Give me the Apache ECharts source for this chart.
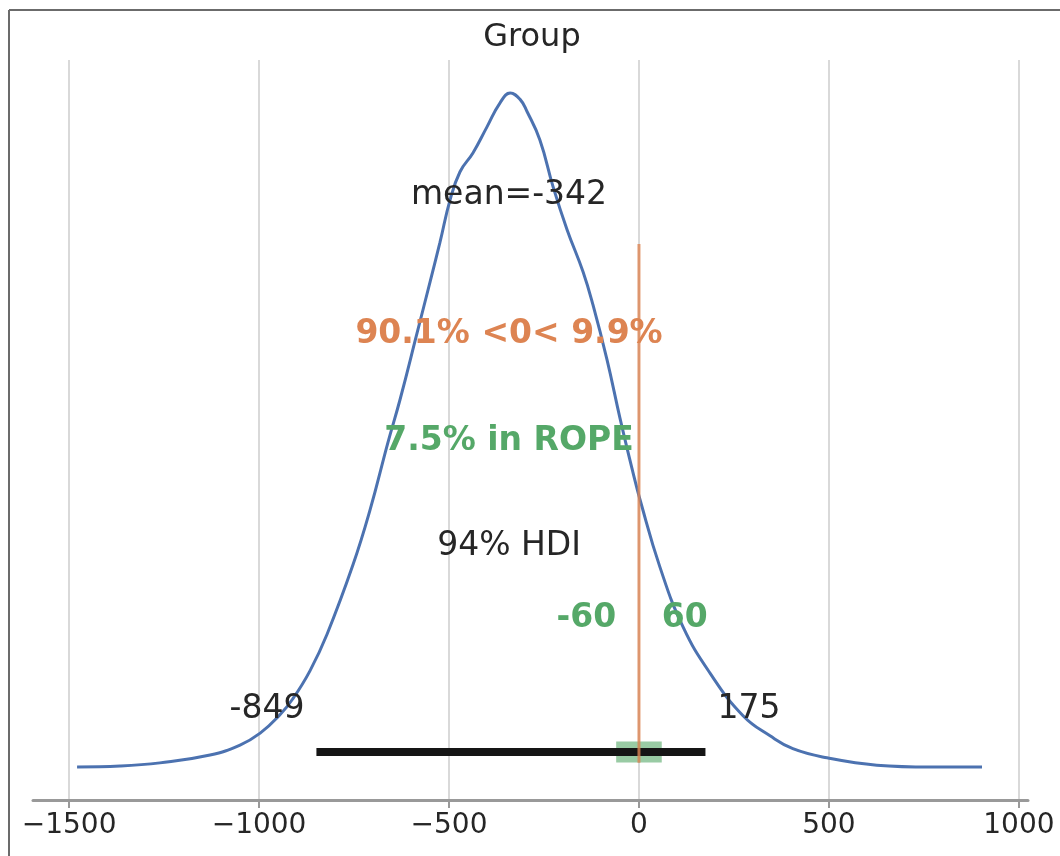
<!DOCTYPE html>
<html>
<head>
<meta charset="utf-8">
<script src="https://cdn.jsdelivr.net/npm/echarts@6/dist/echarts.min.js"></script>
<style>html,body{margin:0;padding:0;background:#fff}#c{width:1060px;height:856px}</style>
</head>
<body>
<div id="c"></div>
<script>
// KDE of posterior (x value, density in 1e-3 units)
const kdeX = [-1479, -1366, -1261, -1129, -1050, -997, -945, -911, -866, -821, -753, -708, -661, -629, -584, -550, -524, -497, -471, -437, -400, -366, -339, -313, -295, -261, -226, -189, -147, -121, -84, -50, -16, 3, 55, 116, 187, 274, 345, 405, 495, 626, 766, 903];
const kdeY = [0.000, 0.002, 0.009, 0.026, 0.048, 0.074, 0.114, 0.149, 0.210, 0.290, 0.441, 0.561, 0.708, 0.802, 0.948, 1.059, 1.145, 1.239, 1.300, 1.341, 1.398, 1.450, 1.472, 1.458, 1.432, 1.370, 1.267, 1.173, 1.081, 1.009, 0.889, 0.762, 0.644, 0.583, 0.437, 0.306, 0.205, 0.112, 0.068, 0.040, 0.020, 0.004, 0.000, 0.000];
const hdi = [-849, 175];
const rope = [-60, 60];
const refVal = 0;
const meanVal = -342;
const tickValues = [-1500, -1000, -500, 0, 500, 1000];
const titleText = "Group";
const meanLabel = "mean=-342";
const refLabel = "90.1% <0< 9.9%";
const ropeLabel = "7.5% in ROPE";
const hdiLabel = "94% HDI";
// annotation heights (density units)
const barY = 0.033;
const refTop = 1.142, refBottom = 0.009;
const meanTextY = 1.249, refTextY = 0.944, ropeTextY = 0.710, hdiTextY = 0.481, ropeValY = 0.324, hdiValY = 0.125;

const FONT = "DejaVu Sans";
const chart = echarts.init(document.getElementById('c'), null, {renderer: 'canvas'});
const fmt = v => (v < 0 ? '\u2212' + Math.abs(v) : String(v));

function textPoint(x, y, text, color, bold, align, dx) {
  return {
    value: [x, y],
    itemStyle: {opacity: 1},
    label: {
      show: true, position: 'inside', formatter: text, color: color, opacity: 1,
      fontFamily: FONT, fontSize: 33, fontWeight: bold ? 'bold' : 'normal',
      align: align || 'center', verticalAlign: 'middle', offset: [dx || 0, 0]
    }
  };
}

chart.setOption({
  animation: false,
  backgroundColor: '#ffffff',
  title: {
    text: titleText, left: 527, top: 17, textAlign: 'center',
    textStyle: {fontFamily: FONT, fontSize: 32, fontWeight: 'normal', color: '#262626'}
  },
  graphic: [
    {type: 'line', shape: {x1: 9, y1: 10, x2: 1060, y2: 10}, style: {stroke: '#6b6b6b', lineWidth: 2}, z: 100},
    {type: 'line', shape: {x1: 9, y1: 10, x2: 9, y2: 856}, style: {stroke: '#6b6b6b', lineWidth: 2}, z: 100}
  ],
  grid: {left: 33, right: 32, top: 60, bottom: 56, containLabel: false},
  xAxis: {
    type: 'value', min: -1595, max: 1024,
    axisLine: {show: true, onZero: false, lineStyle: {color: '#999999', width: 3}},
    axisTick: {show: true, length: 8, customValues: tickValues, lineStyle: {color: '#999999', width: 2}},
    axisLabel: {customValues: tickValues, formatter: fmt, fontFamily: FONT, fontSize: 28, color: '#262626', margin: 12},
    splitLine: {show: true, lineStyle: {color: '#cccccc', width: 1.5}}
  },
  yAxis: {
    type: 'value', min: -0.0721, max: 1.544, show: false,
    splitLine: {show: false}
  },
  series: [
    {
      type: 'line', data: kdeX.map((x, i) => [x, kdeY[i]]), smooth: 0.45, showSymbol: false,
      lineStyle: {color: '#4c72b0', width: 3}, z: 3
    },
    {
      type: 'line', data: rope.map(x => [x, barY]), showSymbol: false,
      lineStyle: {color: 'rgba(85,168,104,0.6)', width: 21, cap: 'butt'}, z: 4
    },
    {
      type: 'line', data: hdi.map(x => [x, barY]), showSymbol: false,
      lineStyle: {color: '#151515', width: 8, cap: 'butt'}, z: 5
    },
    {
      type: 'line', data: [[refVal, refBottom], [refVal, refTop]], showSymbol: false,
      lineStyle: {color: 'rgba(221,132,82,0.8)', width: 3, cap: 'butt'}, z: 6
    },
    {
      type: 'scatter', symbolSize: 0, z: 10, silent: true,
      itemStyle: {opacity: 1},
      data: [
        textPoint(meanVal, meanTextY, meanLabel, '#262626', false),
        textPoint(meanVal, refTextY, refLabel, '#dd8452', true),
        textPoint(meanVal, ropeTextY, ropeLabel, '#55a868', true),
        textPoint(meanVal, hdiTextY, hdiLabel, '#262626', false),
        textPoint(rope[0], ropeValY, String(rope[0]), '#55a868', true, 'right', 0),
        textPoint(rope[1], ropeValY, String(rope[1]), '#55a868', true, 'left', 0),
        textPoint(hdi[0], hdiValY, String(hdi[0]), '#262626', false, 'right', -12),
        textPoint(hdi[1], hdiValY, String(hdi[1]), '#262626', false, 'left', 12)
      ]
    }
  ]
});
</script>
</body>
</html>
